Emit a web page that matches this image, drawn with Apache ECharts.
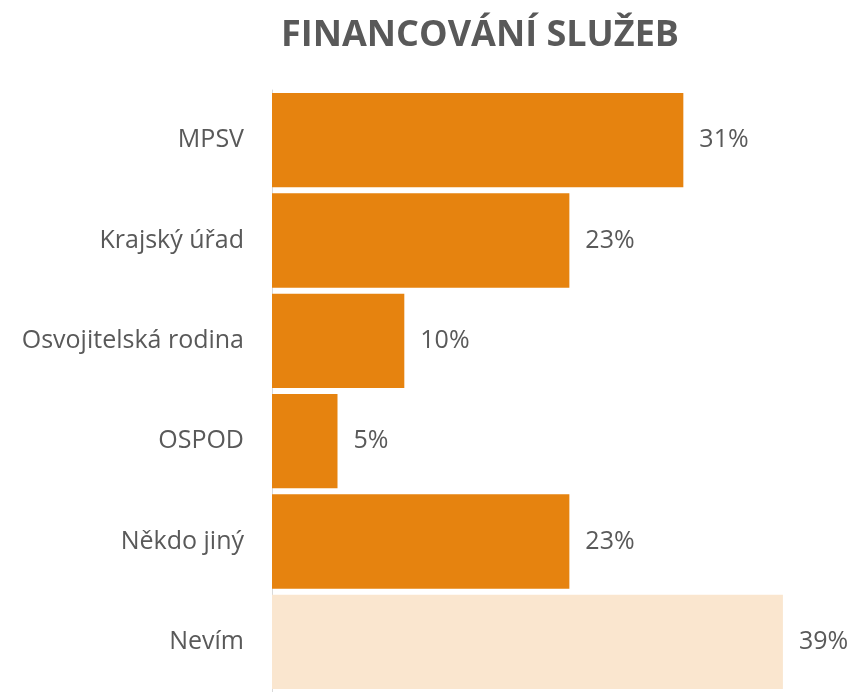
<!DOCTYPE html>
<html lang="cs" style="height: 100%">
<head>
  <meta charset="utf-8">
  <title>Financování služeb</title>
</head>
<body style="height: 100%; margin: 0">
  <div id="container" style="width: 856px; height: 692px"></div>

  <script type="text/javascript" src="https://cdn.jsdelivr.net/npm/echarts@6.0.0/dist/echarts.min.js"></script>

  <script type="text/javascript">
    var categories = ['MPSV', 'Krajský úřad', 'Osvojitelská rodina', 'OSPOD', 'Někdo jiný', 'Nevím'];
    var values = [31.4, 22.7, 10.1, 5.0, 22.7, 39.0];
    var barColors = ['#e6830f', '#e6830f', '#e6830f', '#e6830f', '#e6830f', '#fae6cf'];

    var myChart = echarts.init(document.getElementById('container'), null, { renderer: 'canvas' });

    var option = {
      animation: false,
      textStyle: { fontFamily: 'Open Sans' },
      title: {
        text: 'FINANCOVÁNÍ SLUŽEB',
        left: 475,
        top: 13,
        textAlign: 'center',
        textStyle: { fontSize: 36, fontWeight: 'bold', color: '#595959', fontFamily: 'Open Sans' }
      },
      grid: { left: 272, top: 90, height: 606, right: 60 },
      xAxis: {
        type: 'value',
        min: 0,
        max: 40,
        show: false
      },
      yAxis: {
        type: 'category',
        data: categories,
        inverse: true,
        axisLine: { lineStyle: { color: '#d9d9d9', width: 1 } },
        axisTick: { show: false },
        axisLabel: { color: '#595959', fontSize: 25, margin: 28 }
      },
      series: [
        {
          type: 'bar',
          barCategoryGap: '6%',
          data: values.map(function (v, i) {
            return { value: v, itemStyle: { color: barColors[i] } };
          }),
          label: {
            show: true,
            position: 'right',
            distance: 16,
            color: '#595959',
            fontSize: 25,
            formatter: function (p) { return Math.round(p.value) + '%'; }
          }
        }
      ]
    };

    myChart.setOption(option);
  </script>
</body>
</html>
